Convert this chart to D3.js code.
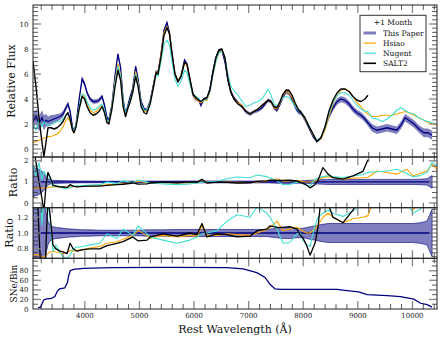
<!DOCTYPE html>
<html>
<head>
<meta charset="utf-8">
<script src="https://cdn.jsdelivr.net/npm/d3@7"></script>
<style>
body { margin: 0; background: #fff; }
text { font-family: "DejaVu Serif", serif; }
</style>
</head>
<body>
<script>
// ---- data ----
var waveFlux = [3050,3105,3160,3215,3250,3290,3325,3380,3435,3490,3545,3600,3655,3690,3730,3775,3800,3840,3895,3950,
  3995,4040,4095,4150,4205,4260,4315,4360,4405,4440,4495,4550,4605,4655,4700,4745,4790,4825,4875,4930,
  4975,5030,5085,5130,5195,5250,5305,5340,5395,5450,5505,5550,5595,5650,5705,5760,5825,5870,5925,5980,
  6035,6090,6125,6180,6235,6290,6345,6400,6455,6510,6565,6620,6675,6730,6805,6880,6950,7025,7100,7170,
  7245,7300,7355,7410,7465,7520,7575,7630,7685,7740,7795,7850,7905,7960,8030,8105,8180,8250,8325,8400,
  8470,8545,8620,8690,8765,8840,8910,8985,9060,9130,9185,9260,9350,9445,9535,9625,9715,9790,9865,9935,
  10030,10120,10210,10285,10360,10450];
var fluxPaper = [2.2,2.6,2.0,2.5,2.1,2.3,2.2,2.3,2.4,2.5,2.6,2.8,3.3,3.6,3.0,1.7,1.4,2.0,4.0,5.6,
  5.2,4.5,4.0,3.8,3.8,3.9,4.2,3.5,2.5,2.3,3.5,5.8,7.6,6.5,4.0,2.8,3.5,4.1,4.8,6.6,
  5.6,3.8,3.2,3.1,3.8,5.0,6.2,6.1,7.6,9.5,10.1,9.3,7.6,6.0,5.4,5.8,7.1,6.8,5.5,4.3,
  4.0,3.9,3.5,4.0,4.0,4.8,6.2,7.3,7.9,7.9,7.0,5.5,4.6,4.1,3.7,3.4,3.0,2.8,3.0,3.1,
  3.3,3.6,3.9,3.8,3.3,3.1,3.6,4.2,4.6,4.5,4.0,3.4,3.0,2.9,2.4,1.7,1.0,0.6,0.9,1.7,
  2.6,3.3,3.8,4.0,3.9,3.6,3.2,2.9,2.7,2.4,2.1,1.7,1.5,1.6,1.7,1.6,1.5,1.9,2.5,2.3,
  2.0,1.6,1.3,1.3,1.1,null];
var fluxPaperErr = [0.6,0.6,0.6,0.6,0.6,0.5,0.4,0.4,0.35,0.3,0.25,0.25,0.2,0.2,0.2,0.15,0.15,0.15,0.2,0.2,
  0.2,0.18,0.18,0.18,0.18,0.18,0.18,0.15,0.15,0.15,0.15,0.15,0.18,0.15,0.15,0.15,0.15,0.15,0.15,0.18,
  0.15,0.15,0.15,0.15,0.15,0.15,0.15,0.15,0.15,0.18,0.2,0.18,0.15,0.15,0.15,0.15,0.18,0.15,0.15,0.15,
  0.15,0.15,0.15,0.15,0.15,0.15,0.15,0.15,0.15,0.15,0.15,0.15,0.15,0.15,0.15,0.15,0.15,0.15,0.15,0.15,
  0.15,0.15,0.15,0.15,0.15,0.18,0.18,0.2,0.2,0.2,0.2,0.2,0.2,0.2,0.2,0.15,0.12,0.1,0.12,0.15,
  0.2,0.25,0.25,0.25,0.25,0.25,0.25,0.25,0.25,0.25,0.25,0.3,0.3,0.3,0.3,0.3,0.3,0.3,0.3,0.3,
  0.3,0.3,0.35,0.35,0.35,null];
var fluxHsiao = [0.5,0.6,0.7,0.8,0.9,0.9,1.0,1.0,1.1,1.2,1.4,1.8,2.3,2.5,2.2,1.5,1.3,1.9,3.3,4.3,
  4.2,3.6,3.1,2.9,3.0,3.2,3.5,3.0,2.2,2.1,3.4,5.4,6.8,5.9,3.6,2.6,3.3,3.8,4.6,6.2,
  5.3,3.5,3.0,3.0,3.7,4.9,6.2,6.0,7.6,9.3,9.8,9.2,7.6,6.0,5.4,5.9,6.9,6.7,5.5,4.3,
  4.0,3.8,3.7,3.9,3.9,4.6,5.9,7.0,7.7,7.9,7.3,5.7,4.5,4.0,3.7,3.5,3.0,2.8,3.0,3.2,
  3.5,3.7,3.9,3.8,3.3,3.2,3.7,4.3,4.6,4.5,4.1,3.6,3.2,2.9,2.4,1.8,1.1,0.7,0.8,1.5,
  2.6,3.6,4.3,4.7,4.8,4.6,4.2,3.7,3.4,3.0,2.8,2.6,2.6,2.7,2.7,2.7,2.8,2.9,3.0,2.9,
  2.7,2.5,2.3,2.1,2.0,1.9];
var fluxNugent = [2.0,1.5,2.3,1.8,2.2,2.0,1.9,2.0,2.1,2.2,2.2,2.4,2.7,2.9,2.4,1.6,1.4,2.0,3.4,4.4,
  4.3,3.8,3.3,3.1,3.2,3.4,3.6,3.1,2.3,2.2,3.3,5.2,6.6,5.8,3.8,2.8,3.4,3.8,4.6,6.0,
  5.2,3.6,3.1,3.1,3.7,4.8,6.0,5.8,7.0,8.4,8.7,8.3,7.0,5.6,5.0,5.4,6.3,6.1,5.2,4.4,
  4.2,4.0,3.8,3.9,4.0,4.6,5.9,7.0,7.7,7.8,7.4,6.0,5.0,4.7,4.3,3.8,3.4,3.5,3.7,3.8,
  4.0,4.4,4.8,4.3,3.6,3.4,3.8,4.1,4.2,4.1,3.8,3.4,3.1,2.9,2.5,1.9,1.2,0.7,0.9,1.7,
  2.8,3.7,4.3,4.5,4.5,4.3,3.9,3.5,3.2,3.0,3.0,2.5,2.4,2.2,2.4,2.7,3.1,3.3,3.1,2.9,
  2.8,2.5,2.3,2.2,2.1,2.0];
var fluxSalt2 = [7.0,5.0,2.5,0.5,-0.6,0.6,1.7,1.7,1.6,1.7,1.9,2.2,2.7,2.9,2.4,1.5,1.3,1.8,3.2,4.2,
  4.0,3.4,2.9,2.7,2.8,3.0,3.4,2.9,2.1,2.0,3.2,4.9,6.3,5.5,3.4,2.6,3.3,3.7,4.5,5.8,
  5.0,3.4,2.9,2.8,3.6,4.8,6.1,6.0,7.4,9.1,9.7,9.2,7.7,6.0,5.4,5.8,6.9,6.8,5.6,4.4,
  4.1,3.9,3.8,4.0,4.1,4.7,6.1,7.3,7.9,8.0,7.3,5.6,4.5,4.0,3.6,3.4,3.0,2.8,3.0,3.2,
  3.5,3.7,3.9,3.8,3.4,3.3,3.8,4.4,4.7,4.7,4.3,3.7,3.2,2.9,2.5,1.8,1.2,0.6,0.9,1.8,
  3.0,3.9,4.5,4.8,4.8,4.6,4.2,3.9,3.8,4.0,4.3,null,null,null,null,null,null,null,null,null,
  null,null,null,null,null,null];

var waveRatio = [3050,3100,3160,3215,3250,3290,3325,3360,3415,3470,3545,3600,3675,3730,3785,3855,3965,4095,4275,4405,
  4590,4700,4880,4975,5140,5195,5430,5690,5925,6055,6145,6235,6420,6605,6785,7025,7155,7335,7390,7520,
  7630,7755,7885,7940,8000,8070,8125,8215,8270,8360,8455,8545,8730,8910,9095,9185,9350,9535,9715,9900,
  10010,10140,10265,10360,10450];
var ratioHsiao = [0.72,0.73,0.72,0.7,0.7,0.72,0.74,0.76,0.77,0.76,0.75,0.74,0.75,0.78,0.77,0.78,0.79,0.81,0.83,0.87,
  0.89,0.92,0.97,1.03,0.97,0.93,0.97,0.95,0.97,0.96,1.09,0.97,0.97,0.99,0.98,0.97,1.0,1.04,1.07,1.15,
  1.03,1.05,1.07,1.05,1.02,1.0,1.0,1.05,1.1,1.2,1.25,1.2,1.13,1.18,1.2,1.22,1.52,1.45,1.37,1.6,
  1.29,1.4,1.52,1.84,1.6];
var ratioNugent = [1.8,1.3,1.9,1.1,1.5,1.3,1.35,1.2,0.77,0.85,0.75,0.7,0.68,0.72,0.8,0.82,0.83,0.85,0.87,0.99,
  0.93,1.05,0.97,1.09,0.99,0.95,0.91,0.87,0.91,0.95,0.99,1.0,1.03,1.15,1.23,1.2,1.33,1.25,1.2,1.05,
  0.87,0.88,0.99,1.0,0.9,0.85,0.83,1.1,1.2,1.25,1.29,1.25,1.21,1.28,1.35,1.45,1.48,1.52,1.6,1.4,
  1.25,1.3,1.45,1.92,1.76];
var ratioSalt2 = [3.0,2.0,1.0,0.2,-0.4,0.9,1.45,1.25,0.85,0.8,0.77,0.76,0.74,0.87,0.8,0.77,0.79,0.8,0.8,0.84,
  0.87,0.89,0.95,0.9,0.91,0.95,0.99,0.96,1.0,0.98,1.12,0.95,0.99,0.98,0.95,0.96,1.03,1.05,1.09,1.07,
  1.07,1.08,1.05,0.98,0.93,0.83,0.72,0.87,1.07,1.68,1.37,1.2,1.13,1.29,1.5,2.05,null,null,null,null,
  null,null,null,null,null];
var ratioErr = [0.7,0.65,0.6,0.5,0.4,0.25,0.15,0.1,0.08,0.07,0.065,0.06,0.055,0.05,0.05,0.045,0.04,0.04,0.035,0.035,
  0.035,0.035,0.035,0.035,0.04,0.04,0.04,0.045,0.045,0.045,0.045,0.045,0.045,0.045,0.045,0.045,0.045,0.045,0.05,0.06,
  0.07,0.07,0.06,0.06,0.06,0.07,0.08,0.09,0.1,0.11,0.12,0.12,0.12,0.12,0.12,0.12,0.12,0.12,0.12,0.12,
  0.12,0.13,0.15,0.3,null];

var waveSNe = [3140,3190,3220,3245,3300,3390,3450,3500,3540,3630,3680,3700,3730,3790,3970,4500,5500,6600,6900,7150,
  7300,7395,7485,7600,7950,8620,8800,9015,9170,9540,9780,10025,10150,10270,10360];
var sneBin = [3,4,12,19,21,22,26,38,42,44,55,68,80,83,85,86.5,87,86.5,84,76,
  66,51,42,41,41,41,38.5,36,30,28,26,20.5,12,9,4];

var xTickLabels = [4000,5000,6000,7000,8000,9000,10000];
var seriesNames = ["This Paper","Hsiao","Nugent","SALT2"];
var legendTitle = "+1 Month";

// ---- layout ----
var W = 443, H = 342;
var left = 33, right = 437;
var colPaper = "navy", colHsiao = "orange", colNugent = "turquoise", colSalt = "black";

var svg = d3.select("body").append("svg").attr("width", W).attr("height", H);

var x = d3.scaleLinear().domain([3050, 10450]).range([left, right]);

var panels = [
  {top: 5, bottom: 157, domain: [-0.64, 11.52], major: [0,2,4,6,8,10], minorStep: 1/3, fmt: d3.format("d"), label: "Relative Flux", lx: 12, lsize: 11},
  {top: 157, bottom: 207.7, domain: [-0.22, 2.18], major: [0,1,2], minorStep: 0.25, fmt: d3.format("d"), label: "Ratio", lx: 14, lsize: 11},
  {top: 207.7, bottom: 258.3, domain: [0.68, 1.32], major: [0.8,1.0,1.2], minorStep: 0.05, fmt: d3.format(".1f"), label: "Ratio", lx: 10, lsize: 11},
  {top: 258.3, bottom: 309, domain: [0, 106], major: [0,20,40,60,80], minorStep: 10, fmt: d3.format("d"), label: "SNe/Bin", lx: 14, lsize: 9}
];

panels.forEach(function(p, i) {
  p.y = d3.scaleLinear().domain(p.domain).range([p.bottom, p.top]);
  svg.append("clipPath").attr("id", "clip" + i)
    .append("rect").attr("x", left).attr("y", p.top).attr("width", right - left).attr("height", p.bottom - p.top);
  p.g = svg.append("g").attr("clip-path", "url(#clip" + i + ")");
});

function lineFor(xs, ys, yScale) {
  var pts = xs.map(function(v, i) { return [v, ys[i]]; });
  return d3.line().defined(function(d) { return d[1] != null; })
    .x(function(d) { return x(d[0]); }).y(function(d) { return yScale(d[1]); })(pts);
}
function bandFor(xs, mid, err, yScale) {
  var pts = xs.map(function(v, i) { return [v, mid[i], err[i]]; });
  return d3.area().defined(function(d) { return d[1] != null && d[2] != null; })
    .x(function(d) { return x(d[0]); })
    .y0(function(d) { return yScale(d[1] - d[2]); })
    .y1(function(d) { return yScale(d[1] + d[2]); })(pts);
}

// panel 1: flux
var p1 = panels[0];
p1.g.append("path").attr("d", bandFor(waveFlux, fluxPaper, fluxPaperErr, p1.y))
  .attr("fill", colPaper).attr("fill-opacity", 0.5).attr("stroke", "none");
p1.g.append("path").attr("d", lineFor(waveFlux, fluxPaper, p1.y))
  .attr("fill", "none").attr("stroke", colPaper).attr("stroke-width", 1.3);
[[fluxHsiao, colHsiao, 1.1], [fluxNugent, colNugent, 1.1], [fluxSalt2, colSalt, 1.4]].forEach(function(s) {
  p1.g.append("path").attr("d", lineFor(waveFlux, s[0], p1.y))
    .attr("fill", "none").attr("stroke", s[1]).attr("stroke-width", s[2]).attr("stroke-linejoin", "round");
});

// panels 2 and 3: ratios
var ones = waveRatio.map(function(v, i) { return ratioErr[i] == null ? null : 1; });
[panels[1], panels[2]].forEach(function(p) {
  p.g.append("path").attr("d", bandFor(waveRatio, ones, ratioErr, p.y))
    .attr("fill", colPaper).attr("fill-opacity", 0.5).attr("stroke", colPaper).attr("stroke-width", 0.6);
  p.g.append("path").attr("d", lineFor(waveRatio, ones, p.y))
    .attr("fill", "none").attr("stroke", colPaper).attr("stroke-width", 1.3);
  [[ratioHsiao, colHsiao, 1.1], [ratioNugent, colNugent, 1.1], [ratioSalt2, colSalt, 1.3]].forEach(function(s) {
    p.g.append("path").attr("d", lineFor(waveRatio, s[0], p.y))
      .attr("fill", "none").attr("stroke", s[1]).attr("stroke-width", s[2]).attr("stroke-linejoin", "round");
  });
});

// panel 4: SNe per bin
var p4 = panels[3];
p4.g.append("path").attr("d", lineFor(waveSNe, sneBin, p4.y))
  .attr("fill", "none").attr("stroke", colPaper).attr("stroke-width", 1.3);

// ---- frames and ticks ----
var xMinor = d3.range(3200, 10450, 200);
panels.forEach(function(p) {
  var t = svg.append("g");
  xMinor.forEach(function(v) {
    var major = v % 1000 === 0;
    var len = major ? 8 : 5;
    [[p.top, 1], [p.bottom, -1]].forEach(function(e) {
      t.append("line").attr("x1", x(v)).attr("x2", x(v)).attr("y1", e[0]).attr("y2", e[0] + e[1] * len)
        .attr("stroke", major ? "#888" : "#333").attr("stroke-width", major ? 1.3 : 0.8);
    });
  });
  var lo = p.domain[0], hi = p.domain[1];
  d3.range(Math.ceil(lo / p.minorStep - 1e-6), Math.floor(hi / p.minorStep + 1e-6) + 1).forEach(function(k) {
    var v = k * p.minorStep;
    var major = p.major.some(function(m) { return Math.abs(m - v) < 1e-6; });
    var len = major ? 8 : 5;
    var yy = p.y(v);
    if (yy < p.top + 0.5 || yy > p.bottom - 0.5) return;
    [[left, 1], [right, -1]].forEach(function(e) {
      t.append("line").attr("x1", e[0]).attr("x2", e[0] + e[1] * len).attr("y1", yy).attr("y2", yy)
        .attr("stroke", major ? "#888" : "#333").attr("stroke-width", major ? 1.3 : 0.8);
    });
  });
  p.major.forEach(function(v) {
    t.append("text").attr("x", left - 4.5).attr("y", p.y(v) + 2.5)
      .attr("text-anchor", "end").attr("font-size", 7).attr("fill", "#222").text(p.fmt(v));
  });
  t.append("rect").attr("x", left).attr("y", p.top).attr("width", right - left).attr("height", p.bottom - p.top)
    .attr("fill", "none").attr("stroke", "#222").attr("stroke-width", 1);
  var cy = (p.top + p.bottom) / 2;
  t.append("text").attr("transform", "translate(" + p.lx + "," + cy + ") rotate(-90)")
    .attr("text-anchor", "middle").attr("dominant-baseline", "middle")
    .attr("font-size", p.lsize).attr("fill", "#111").text(p.label);
});

xTickLabels.forEach(function(v) {
  svg.append("text").attr("x", x(v)).attr("y", 318).attr("text-anchor", "middle")
    .attr("font-size", 7).attr("fill", "#222").text(v);
});
svg.append("text").attr("x", (left + right) / 2).attr("y", 333).attr("text-anchor", "middle")
  .attr("font-size", 11).attr("fill", "#111").text("Rest Wavelength (Å)");

// ---- legend ----
var leg = svg.append("g");
leg.append("rect").attr("x", 360).attr("y", 15.3).attr("width", 66).attr("height", 56.4)
  .attr("fill", "#fff").attr("stroke", "#333").attr("stroke-width", 1);
leg.append("text").attr("x", 393).attr("y", 25).attr("text-anchor", "middle")
  .attr("font-size", 7.5).attr("fill", "#111").text(legendTitle);
var legStyles = [[colPaper, 3, 0.5], [colHsiao, 1.2, 1], [colNugent, 1.2, 1], [colSalt, 1.6, 1]];
seriesNames.forEach(function(name, i) {
  var yy = 33 + i * 10.1;
  leg.append("line").attr("x1", 363.5).attr("x2", 376).attr("y1", yy).attr("y2", yy)
    .attr("stroke", legStyles[i][0]).attr("stroke-width", legStyles[i][1]).attr("stroke-opacity", legStyles[i][2]);
  leg.append("text").attr("x", 383).attr("y", yy + 2.6).attr("font-size", 7.5).attr("fill", "#111").text(name);
});
</script>
</body>
</html>
